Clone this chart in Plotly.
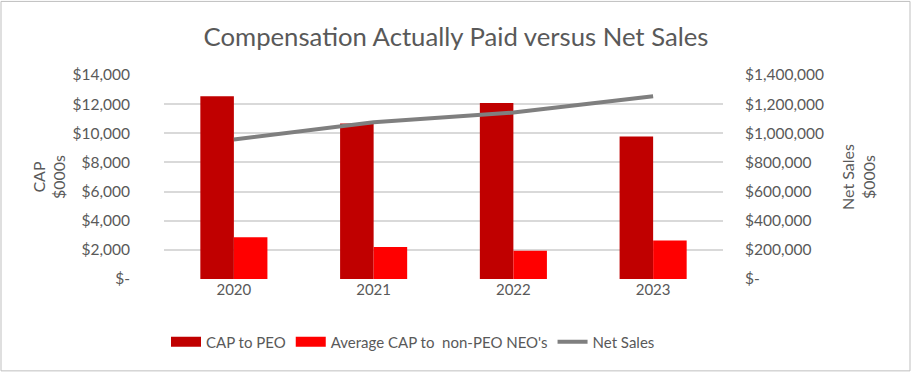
import plotly.graph_objects as go

years = ["2020", "2021", "2022", "2023"]
cap_peo = [12540, 10670, 12080, 9780]
cap_neo = [2860, 2190, 1940, 2650]
net_sales = [957000, 1076000, 1142000, 1254000]

left_ticks = [0, 2000, 4000, 6000, 8000, 10000, 12000, 14000]
left_text = ["$-", "$2,000", "$4,000", "$6,000", "$8,000", "$10,000", "$12,000", "$14,000"]
right_ticks = [0, 200000, 400000, 600000, 800000, 1000000, 1200000, 1400000]
right_text = ["$-", "$200,000", "$400,000", "$600,000", "$800,000", "$1,000,000", "$1,200,000", "$1,400,000"]

FONT = "Lato"
TXT = "#595959"
C_PEO = "#C00000"
C_NEO = "#FF0000"
C_NS = "#7F7F7F"

fig = go.Figure()
fig.add_trace(go.Bar(x=years, y=cap_peo, name="CAP to PEO", marker_color=C_PEO,
                     marker_line_width=0, showlegend=False))
fig.add_trace(go.Bar(x=years, y=cap_neo, name="Average CAP to  non-PEO NEO's", marker_color=C_NEO,
                     marker_line_width=0, showlegend=False))
fig.add_trace(go.Scatter(x=years, y=net_sales, name="Net Sales", mode="lines",
                         line=dict(color=C_NS, width=4), yaxis="y2", showlegend=False))
# legend-only entries (wide swatches like the reference)
fig.add_trace(go.Scatter(x=[None], y=[None], mode="lines", name="CAP to PEO",
                         line=dict(color=C_PEO, width=10)))
fig.add_trace(go.Scatter(x=[None], y=[None], mode="lines", name="Average CAP to  non-PEO NEO's",
                         line=dict(color=C_NEO, width=10)))
fig.add_trace(go.Scatter(x=[None], y=[None], mode="lines", name="Net Sales",
                         line=dict(color=C_NS, width=4)))

fig.update_layout(
    width=912, height=373,
    margin=dict(l=164, r=189, t=75, b=94, autoexpand=False),
    paper_bgcolor="white", plot_bgcolor="white",
    font=dict(family=FONT, color=TXT, size=15),
    title=dict(text="Compensation Actually Paid versus Net Sales", x=456 / 912, xanchor="center",
               xref="container", y=1 - 37 / 373, yanchor="middle", automargin=False,
               font=dict(size=25.7, color=TXT, family=FONT)),
    barmode="group", bargap=0.52, bargroupgap=0,
    xaxis=dict(showgrid=False, showline=False, ticks="", automargin=False,
               tickfont=dict(size=15, color=TXT), range=[-0.5, 3.5]),
    yaxis=dict(range=[0, 14000], tickvals=left_ticks, ticktext=left_text, showgrid=True,
               gridcolor="#D9D9D9", gridwidth=1.5, zeroline=False, ticks="outside", ticklen=30,
               tickcolor="rgba(0,0,0,0)", tickfont=dict(size=15.5, color=TXT), automargin=False,
               title=dict(text="CAP<br>$000s", font=dict(size=16, color=TXT), standoff=2)),
    yaxis2=dict(range=[0, 1400000], tickvals=right_ticks, ticktext=right_text, overlaying="y",
                side="right", showgrid=False, zeroline=False, ticks="outside", ticklen=18,
                tickcolor="rgba(0,0,0,0)", tickfont=dict(size=15.5, color=TXT), automargin=False,
                title=dict(text="Net Sales<br>$000s", font=dict(size=16, color=TXT), standoff=19)),
    legend=dict(orientation="h", x=(166 - 164) / 559, xanchor="left", y=(279 - 342) / 204.3,
                yanchor="middle", font=dict(size=15, color=TXT), traceorder="normal", itemwidth=30),
    showlegend=True,
)

fig.add_shape(type="rect", xref="paper", yref="paper",
              x0=(1 - 164) / 559, x1=(910 - 164) / 559,
              y0=(279 - 371) / 204.3, y1=(279 - 1) / 204.3,
              line=dict(color="#BFBFBF", width=1), fillcolor="rgba(0,0,0,0)", layer="below")

fig.write_html("out.html", config={"displayModeBar": False},
               post_script="document.body.style.margin='0';")
